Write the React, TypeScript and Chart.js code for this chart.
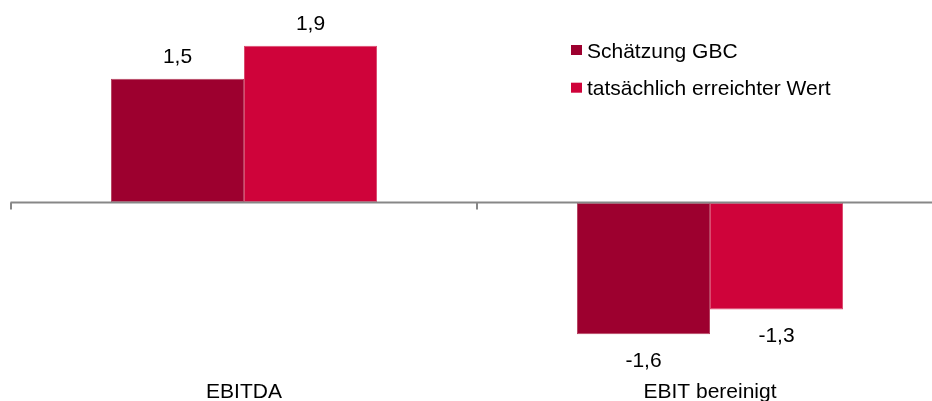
import React, { useEffect, useRef } from "react";
import { Chart, registerables } from "chart.js";

Chart.register(...registerables);

const categories = ["EBITDA", "EBIT bereinigt"];
const seriesLabels = ["Schätzung GBC", "tatsächlich erreichter Wert"];
const estimateGBC = [1.5, -1.6];
const actualValues = [1.9, -1.3];
const seriesColors = ["#9D002F", "#CF033A"];
const seriesBorders = ["#B5405F", "#DB4A6E"];
const yMin = -2.152;
const yMax = 2.455;

const FONT = "'Liberation Sans', Arial, Helvetica, sans-serif";
const FONT_SIZE = 21;

const fmt = (v: number) => v.toFixed(1).replace(".", ",");

const decorPlugin = {
  id: "decor",
  afterDatasetsDraw(chart: any) {
    const ctx = chart.ctx;
    const area = chart.chartArea;
    const x = chart.scales.x;
    const y = chart.scales.y;
    const y0 = y.getPixelForValue(0);
    ctx.save();
    // zero line
    ctx.strokeStyle = "#878787";
    ctx.lineWidth = 2;
    ctx.beginPath();
    ctx.moveTo(area.left - 0.5, y0);
    ctx.lineTo(area.right, y0);
    ctx.stroke();
    // tick marks on category boundaries
    const half = (x.getPixelForValue(1) - x.getPixelForValue(0)) / 2;
    const bounds: number[] = [];
    for (let i = 0; i < categories.length; i++) bounds.push(x.getPixelForValue(i) - half);
    bounds.push(x.getPixelForValue(categories.length - 1) + half);
    ctx.lineWidth = 2;
    bounds.forEach((bx) => {
      ctx.beginPath();
      ctx.moveTo(bx, y0);
      ctx.lineTo(bx, y0 + 7);
      ctx.stroke();
    });
    // value labels
    ctx.fillStyle = "#000";
    ctx.font = `${FONT_SIZE}px ${FONT}`;
    ctx.textAlign = "center";
    ctx.textBaseline = "alphabetic";
    chart.data.datasets.forEach((ds: any, di: number) => {
      const meta = chart.getDatasetMeta(di);
      meta.data.forEach((bar: any, i: number) => {
        const v = ds.data[i] as number;
        const capHalf = FONT_SIZE * 0.358;
        const cy = v >= 0 ? bar.y - 23 : bar.y + 25;
        ctx.fillText(fmt(v), bar.x, cy + capHalf);
      });
    });
    // legend
    ctx.textAlign = "left";
    chart.data.datasets.forEach((ds: any, di: number) => {
      const cy = 50 + di * 37.7;
      ctx.fillStyle = ds.backgroundColor;
      ctx.fillRect(571, cy - 5, 11, 10);
      ctx.fillStyle = "#000";
      ctx.fillText(ds.label, 587, cy + FONT_SIZE * 0.358);
    });
    ctx.restore();
  },
};

export default function App() {
  const ref = useRef<HTMLCanvasElement | null>(null);
  useEffect(() => {
    if (!ref.current) return;
    const chart = new Chart(ref.current, {
      type: "bar",
      data: {
        labels: categories,
        datasets: [
          {
            label: seriesLabels[0],
            data: estimateGBC,
            backgroundColor: seriesColors[0],
            borderColor: seriesBorders[0],
            borderWidth: 1,
            borderSkipped: false,
          },
          {
            label: seriesLabels[1],
            data: actualValues,
            backgroundColor: seriesColors[1],
            borderColor: seriesBorders[1],
            borderWidth: 1,
            borderSkipped: false,
          },
        ],
      },
      options: {
        responsive: false,
        animation: false,
        devicePixelRatio: 1,
        layout: { padding: { left: 11, right: 17, top: 0, bottom: 0 } },
        datasets: {
          bar: { categoryPercentage: 0.571, barPercentage: 1 },
        },
        plugins: {
          legend: { display: false },
          tooltip: { enabled: false },
        },
        scales: {
          x: {
            grid: { display: false, drawTicks: false },
            border: { display: false },
            ticks: {
              color: "#000",
              padding: 0,
              font: { family: FONT, size: FONT_SIZE },
            },
          },
          y: {
            display: false,
            min: yMin,
            max: yMax,
          },
        },
      },
      plugins: [decorPlugin],
    });
    return () => chart.destroy();
  }, []);
  return (
    <div
      style={{
        position: "fixed",
        left: 0,
        top: 0,
        width: 932,
        height: 401,
        overflow: "hidden",
        background: "#fff",
      }}
    >
      <canvas ref={ref} width={960} height={405} style={{ display: "block" }} />
    </div>
  );
}
